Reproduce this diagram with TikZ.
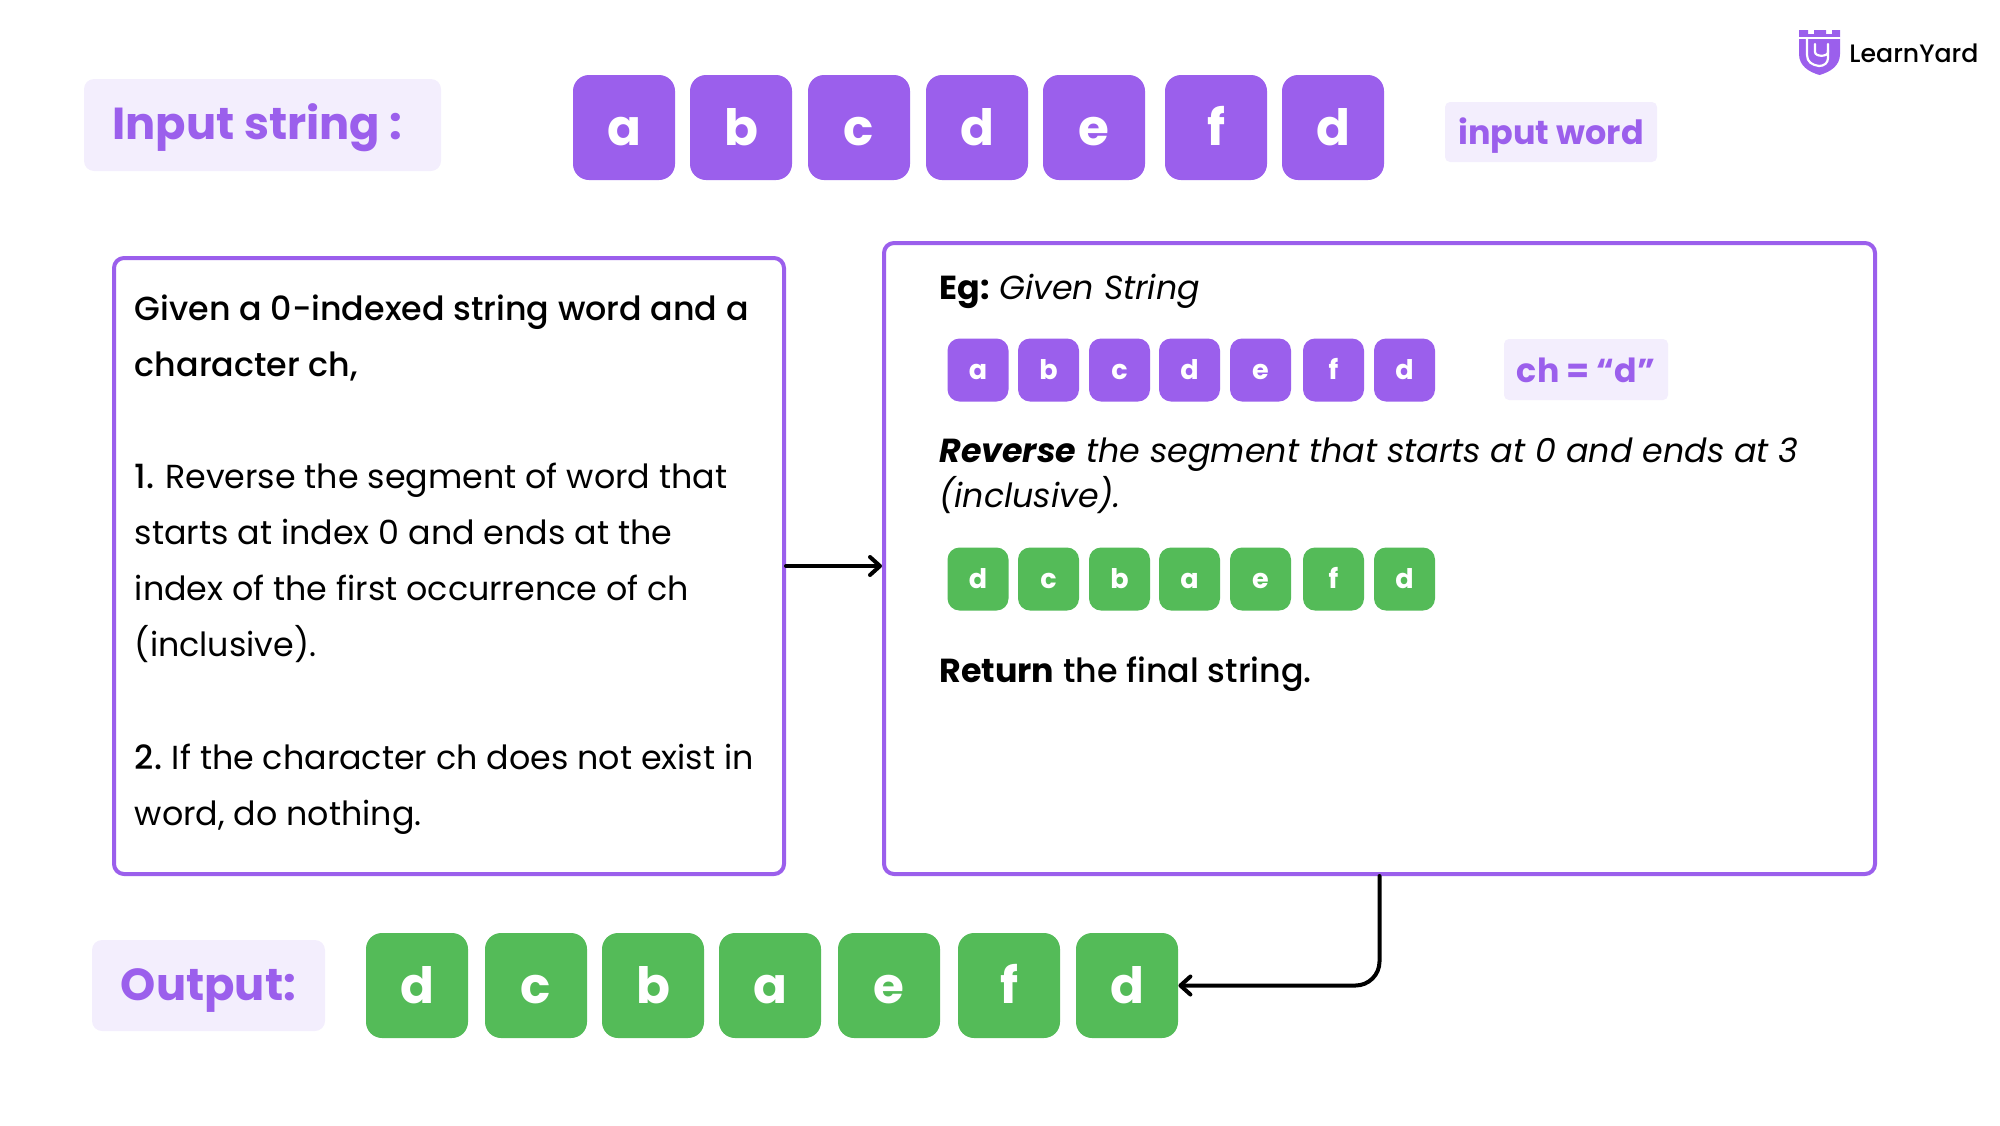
\documentclass[tikz,border=0pt]{standalone}
\usepackage{fontspec}
\usetikzlibrary{arrows.meta}
\setmainfont{Poppins}
\newfontfamily\medfont{Poppins Medium}
\definecolor{lypurple}{HTML}{9B5FEC}
\definecolor{lypale}{HTML}{F3EEFD}
\definecolor{lygreen}{HTML}{54BB58}
\tikzset{
	bigcell/.style={fill=#1,rounded corners=8pt,minimum width=51pt,minimum height=52.5pt,inner sep=0pt,text=white,
		text height=35pt,text depth=17.5pt,font=\fontsize{25}{25}\selectfont\bfseries},
	smallcell/.style={fill=#1,rounded corners=6pt,minimum width=30.5pt,minimum height=31.5pt,inner sep=0pt,text=white,
		text height=20.25pt,text depth=11.25pt,font=\fontsize{13.5}{13.5}\selectfont\bfseries},
	tagbox/.style={fill=lypale,rounded corners=5pt,inner sep=0pt,text=lypurple,font=\fontsize{#1}{#1}\selectfont\bfseries},
	framebox/.style={draw=lypurple,line width=2pt,rounded corners=5pt,inner sep=0pt,fill=white},
	bodytext/.style={anchor=base west,inner sep=0pt,font=\fontsize{16.65}{16.65}\selectfont},
	flow/.style={-{Straight Barb[length=5pt,width=9pt,round]},line width=2pt}
}
\begin{document}
\begin{tikzpicture}[line join=round,line cap=round,x=0.5pt,y=-0.5pt]
	\useasboundingbox (0,0) rectangle (2000,1125);
	% frames
	\node[framebox,minimum width=335pt,minimum height=308pt] (leftbox) at (449,566) {};
	\node[framebox,minimum width=495.5pt,minimum height=315.5pt] (rightbox) at (1379.5,558.5) {};
	% tags
	\node[tagbox=22.4,minimum width=178.5pt,minimum height=46pt,text height=30pt,text depth=16pt] (inputtag) at (262.5,125) {\hspace{-5pt}Input string :};
	\node[tagbox=16.7,rounded corners=2.5pt,minimum width=106pt,minimum height=30pt,text height=21pt,text depth=9pt] (wordtag) at (1551,132) {input word};
	\node[tagbox=16.6,rounded corners=2.5pt,minimum width=82pt,minimum height=30.5pt,text height=21.75pt,text depth=8.75pt] (chtag) at (1586,369.5) {ch = “d”};
	\node[tagbox=22.4,minimum width=116.5pt,minimum height=45.5pt,text height=30pt,text depth=15.5pt] (outputtag) at (208.5,985.5) {Output:};
	% letter rows
	\foreach \x/\ltr [count=\i] in {624/a,741/b,859/c,977/d,1094/e,1216/f,1333/d}
		\node[bigcell=lypurple] (in\i) at (\x,127.5) {\ltr};
	\foreach \x/\ltr [count=\i] in {417/d,536/c,653/b,770/a,889/e,1009/f,1127/d}
		\node[bigcell=lygreen] (out\i) at (\x,985.5) {\ltr};
	\foreach \x/\ltr [count=\i] in {978/a,1048.5/b,1119.5/c,1189.5/d,1260.5/e,1333.5/f,1404.5/d}
		\node[smallcell=lypurple] (given\i) at (\x,370) {\ltr};
	\foreach \x/\ltr [count=\i] in {978/d,1048.5/c,1119.5/b,1189.5/a,1260.5/e,1333.5/f,1404.5/d}
		\node[smallcell=lygreen] (rev\i) at (\x,579) {\ltr};
	% left text
	\node[bodytext] (l1) at (134.5,320) {\medfont Given a 0-indexed string word and a};
	\node[bodytext] (l2) at (134.5,376) {\medfont character ch,};
	\node[bodytext] (l3) at (134.5,488) {{\medfont 1.}\hspace{-0.6pt} Reverse the segment of word that};
	\node[bodytext] (l4) at (134.5,544) {starts at index 0 and ends at the};
	\node[bodytext] (l5) at (134.5,600) {index of the first occurrence of ch};
	\node[bodytext] (l6) at (134.5,656) {(inclusive).};
	\node[bodytext] (l7) at (134.5,769) {{\medfont 2.}\hspace{-1pt} If the character ch does not exist in};
	\node[bodytext] (l8) at (134.5,825) {word, do nothing.};
	% right text
	\node[bodytext] (eg) at (939,299) {\textbf{Eg:}\hspace{-1pt} \textit{Given String}};
	\node[bodytext] (r1) at (939,462) {\textit{\textbf{Reverse} the segment that starts at 0 and ends at 3}};
	\node[bodytext] (r2) at (939,507) {\textit{(inclusive).}};
	\node[bodytext] (r3) at (939,682) {\textbf{Return} {\medfont the final string.}};
	% arrows
	\draw[flow] (leftbox.east) -- (leftbox.east -| rightbox.west);
	\draw[flow,rounded corners=12pt] (rightbox.south) |- (out7.east);
	% logo
	\fill[lypurple] (1799,30) -- (1808,30) -- (1808,34) -- (1814,34) -- (1814,30) -- (1826,30) -- (1826,34) -- (1832,34) -- (1832,30) -- (1840,30)
		-- (1840,54) .. controls (1840,66) and (1830,72) .. (1819.5,75) .. controls (1809,72) and (1799,66) .. (1799,54) -- cycle;
	\draw[white,line width=1.2pt] (1799,38) -- (1840,38);
	\draw[white,line width=1.1pt] (1807,38) -- (1807,55) .. controls (1807,62) and (1812,65) .. (1819,66);
	\draw[white,line width=1.1pt] (1815,44) -- (1815,52) .. controls (1815,57) and (1828,57) .. (1828,52) -- (1828,44);
	\draw[white,line width=1.1pt] (1828,50) -- (1828,58) .. controls (1828,63) and (1824,66) .. (1819,66);
	\node[anchor=base west,inner sep=0pt,font=\fontsize{12.6}{12.6}\selectfont\medfont] (logotext) at (1849,62) {LearnYard};
\end{tikzpicture}
\end{document}
